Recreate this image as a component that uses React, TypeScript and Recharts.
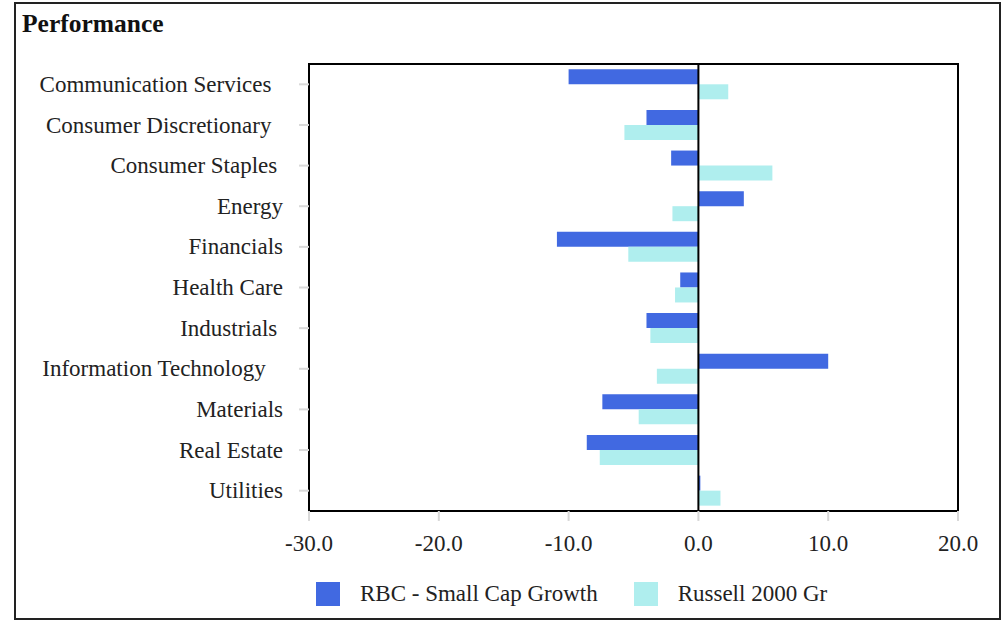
import React from 'react';
import { BarChart, Bar, XAxis, YAxis, ReferenceLine, ReferenceArea, Legend } from 'recharts';

const categories = [
  'Communication Services  ',
  'Consumer Discretionary  ',
  'Consumer Staples ',
  'Energy',
  'Financials',
  'Health Care',
  'Industrials ',
  'Information Technology   ',
  'Materials',
  'Real Estate',
  'Utilities',
];
const rbcValues = [-10.0, -4.0, -2.1, 3.5, -10.9, -1.4, -4.0, 10.0, -7.4, -8.6, 0.15];
const russellValues = [2.3, -5.7, 5.7, -2.0, -5.4, -1.8, -3.7, -3.2, -4.6, -7.6, 1.7];
const xTicks = [-30, -20, -10, 0, 10, 20];
const seriesNames = ['RBC - Small Cap Growth', 'Russell 2000 Gr'];
const seriesColors = ['#4169E1', '#AFEEEE'];

const data = categories.map((c, i) => ({ name: c, rbc: rbcValues[i], russell: russellValues[i] }));

const FONT = '"Liberation Serif", "Times New Roman", serif';
const TEXT = '#222';
const FS = 23;

const YTick = (props: any) => {
  const { x, y, payload } = props;
  return (
    <text
      x={x}
      y={y}
      dy="0.33em"
      textAnchor="end"
      fontFamily={FONT}
      fontSize={FS}
      fill={TEXT}
      xmlSpace="preserve"
      style={{ whiteSpace: 'pre' }}
    >
      {payload.value}
    </text>
  );
};

const LegendContent = (props: any) => {
  const { payload } = props;
  return (
    <div style={{ display: 'flex', alignItems: 'center', fontFamily: FONT, fontSize: FS, color: TEXT }}>
      {(payload || []).map((p: any, i: number) => (
        <div key={i} style={{ display: 'flex', alignItems: 'center', marginRight: 36 }}>
          <div style={{ width: 24, height: 24, background: p.color, marginRight: 20 }} />
          <span style={{ lineHeight: '24px' }}>{p.value}</span>
        </div>
      ))}
    </div>
  );
};

export default function App() {
  return (
    <div style={{ position: 'absolute', left: 0, top: 0, width: 1005, height: 621, background: '#fff' }}>
      <div
        style={{
          position: 'absolute',
          left: 14,
          top: 2,
          width: 987,
          height: 618,
          border: '2px solid #222',
          boxSizing: 'border-box',
        }}
      />
      <div
        style={{
          position: 'absolute',
          left: 22,
          top: 11,
          fontFamily: FONT,
          fontWeight: 'bold',
          fontSize: 25.5,
          lineHeight: '25px',
          color: '#111',
        }}
      >
        Performance
      </div>
      <div style={{ position: 'absolute', left: 0, top: 0 }}>
        <BarChart
          width={1005}
          height={621}
          data={data}
          layout="vertical"
          margin={{ top: 64, right: 47, left: 0, bottom: 60 }}
          barCategoryGap="13%"
          barGap={0}
        >
          <XAxis
            type="number"
            domain={[-30, 20]}
            ticks={xTicks}
            allowDataOverflow
            height={50}
            axisLine={false}
            tickSize={10}
            tickMargin={14}
            tickLine={{ stroke: '#d9d9d9', strokeWidth: 2 }}
            tickFormatter={(v: number) => v.toFixed(1)}
            tick={{ fontFamily: FONT, fontSize: FS, fill: TEXT }}
          />
          <YAxis
            type="category"
            dataKey="name"
            width={309}
            axisLine={false}
            tickSize={10}
            tickMargin={16}
            tickLine={{ stroke: '#d9d9d9', strokeWidth: 2 }}
            tick={<YTick />}
            interval={0}
          />
          <Bar dataKey="rbc" name={seriesNames[0]} fill={seriesColors[0]} isAnimationActive={false} />
          <Bar dataKey="russell" name={seriesNames[1]} fill={seriesColors[1]} isAnimationActive={false} />
          <ReferenceLine x={0} stroke="#000" strokeWidth={2} />
          <ReferenceArea x1={-30} x2={20} stroke="#000" strokeWidth={2} fill="none" fillOpacity={0} />
          <Legend
            layout="horizontal"
            verticalAlign="middle"
            align="center"
            content={<LegendContent />}
            wrapperStyle={{ top: 582, left: 316, width: 680, height: 24 }}
          />
        </BarChart>
      </div>
    </div>
  );
}
